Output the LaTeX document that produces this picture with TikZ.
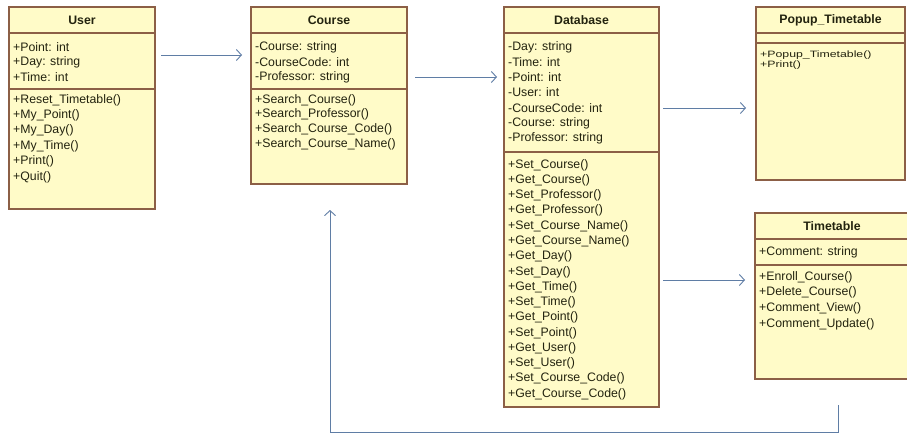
\documentclass[tikz,border=0pt]{standalone}
\usepackage{fontspec}
\setmainfont{Liberation Sans}
\usetikzlibrary{arrows.meta}
\definecolor{boxfill}{RGB}{255,251,200}
\definecolor{boxbrown}{RGB}{140,95,70}
\definecolor{txt}{RGB}{35,35,15}
\definecolor{arrowblue}{RGB}{95,125,165}
\newcommand\memfont{\fontsize{12.3}{15}\selectfont}
\newcommand\squash[1]{\scalebox{1}[0.75]{#1}}
\begin{document}
\begin{tikzpicture}[x=1pt,y=-1pt,
  cls/.style={draw=boxbrown, fill=boxfill, line width=1.1pt, inner sep=0pt, outer sep=0pt},
  sep/.style={draw=boxbrown, line width=1.1pt},
  ttl/.style={font=\memfont\bfseries, text=txt, inner sep=0pt},
  mem/.style={font=\memfont, text=txt, anchor=west, inner sep=0pt},
  conn/.style={draw=arrowblue, line width=0.9pt, -{Straight Barb[length=5pt,width=11pt]}}]
\fill[white] (0,0) rectangle (907,434);
\clip (0,0) rectangle (907,434);

% ---- User
\node[cls, minimum width=146pt, minimum height=202pt] (user) at (82,108) {};
\draw[sep] (user.west |- 0,33) -- (user.east |- 0,33);
\draw[sep] (user.west |- 0,89) -- (user.east |- 0,89);
\node[ttl] (usert) at (82,20) {User};
\foreach \t [count=\i] in {+Point: int,+Day: string,+Time: int}
  \node[mem] (ua\i) at (13,{47+15*(\i-1)}) {\t};
\foreach \t [count=\i] in {+Reset\_Timetable(),+My\_Point(),+My\_Day(),+My\_Time(),+Print(),+Quit()}
  \node[mem] (uo\i) at (13,{100+15.4*(\i-1)}) {\t};

% ---- Course
\node[cls, minimum width=156pt, minimum height=177pt] (course) at (329,95.5) {};
\draw[sep] (course.west |- 0,33) -- (course.east |- 0,33);
\draw[sep] (course.west |- 0,89) -- (course.east |- 0,89);
\node[ttl] (courset) at (329,20) {Course};
\foreach \t [count=\i] in {-Course: string,-CourseCode: int,-Professor: string}
  \node[mem] (ca\i) at (255,{47+15*(\i-1)}) {\t};
\foreach \t [count=\i] in {+Search\_Course(),+Search\_Professor(),+Search\_Course\_Code(),+Search\_Course\_Name()}
  \node[mem] (co\i) at (255,{100+14.8*(\i-1)}) {\t};

% ---- Database
\node[cls, minimum width=155pt, minimum height=400pt] (db) at (581.5,207) {};
\draw[sep] (db.west |- 0,33) -- (db.east |- 0,33);
\draw[sep] (db.west |- 0,152) -- (db.east |- 0,152);
\node[ttl] (dbt) at (581.5,20) {Database};
\foreach \t [count=\i] in {-Day: string,-Time: int,-Point: int,-User: int,-CourseCode: int,-Course: string,-Professor: string}
  \node[mem] (da\i) at (508,{47+15.17*(\i-1)}) {\t};
\foreach \t [count=\i] in {+Set\_Course(),+Get\_Course(),+Set\_Professor(),+Get\_Professor(),+Set\_Course\_Name(),+Get\_Course\_Name(),+Get\_Day(),+Set\_Day(),+Get\_Time(),+Set\_Time(),+Get\_Point(),+Set\_Point(),+Get\_User(),+Set\_User(),+Set\_Course\_Code(),+Get\_Course\_Code()}
  \node[mem] (do\i) at (508,{165+15.27*(\i-1)}) {\t};

% ---- Popup_Timetable
\node[cls, minimum width=149pt, minimum height=173pt] (popup) at (830.5,93.5) {};
\draw[sep] (popup.west |- 0,33) -- (popup.east |- 0,33);
\draw[sep] (popup.west |- 0,43) -- (popup.east |- 0,43);
\node[ttl] (popupt) at (830.5,20) {Popup\_Timetable};
\node[mem] (po1) at (760,55.5) {\squash{+Popup\_Timetable()}};
\node[mem] (po2) at (760,65.5) {\squash{+Print()}};

% ---- Timetable
\node[cls, minimum width=160pt, minimum height=166pt] (tt) at (835,296) {};
\draw[sep] (tt.west |- 0,239) -- (tt.east |- 0,239);
\draw[sep] (tt.west |- 0,265) -- (tt.east |- 0,265);
\node[ttl] (ttt) at (832,226) {Timetable};
\node[mem] (ta1) at (759,252) {+Comment: string};
\foreach \t [count=\i] in {+Enroll\_Course(),+Delete\_Course(),+Comment\_View(),+Comment\_Update()}
  \node[mem] (to\i) at (759,{277+15.7*(\i-1)}) {\t};

% ---- connectors
\draw[conn, shorten <=6pt, shorten >=9pt] (user.east |- 0,55) -- (course.west |- 0,55);
\draw[conn, shorten <=8pt, shorten >=7pt] (course.east |- 0,77) -- (db.west |- 0,77);
\draw[conn, shorten <=4pt, shorten >=10pt] (db.east |- 0,108) -- (popup.west |- 0,108);
\draw[conn, shorten <=4pt, shorten >=10pt] (db.east |- 0,280) -- (tt.west |- 0,280);
\coordinate (fbstart) at (838,405);
\coordinate (fbcorner) at (838,432);
\draw[conn, shorten >=26pt] (fbstart) -- (fbcorner) -| (course.south -| 330,0);
\end{tikzpicture}
\end{document}
